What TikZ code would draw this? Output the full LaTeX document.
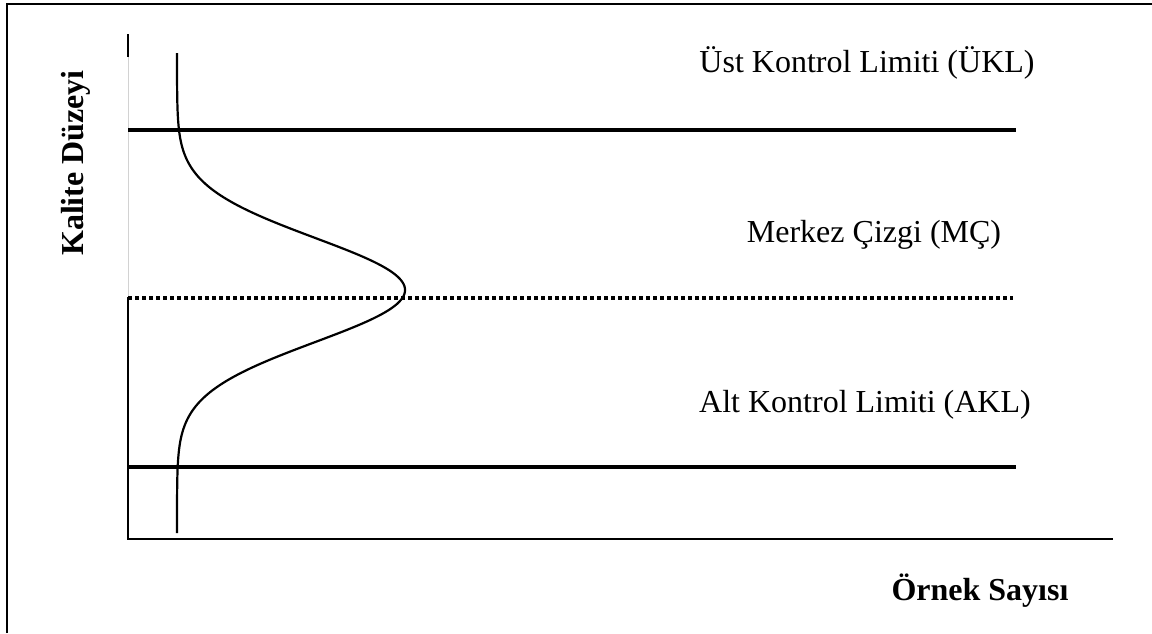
\documentclass[tikz,border=0pt]{standalone}
\usepackage{fontspec}
\setmainfont{Liberation Serif}
\begin{document}
\begin{tikzpicture}[x=1pt,y=-1pt,
  frame/.style={line width=2pt},
  axisline/.style={line width=2pt},
  limitline/.style={line width=3.8pt},
  centreline/.style={line width=3.5pt, dash pattern=on 3.5pt off 3.5pt},
  curve/.style={line width=2.2pt},
  lbl/.style={font=\fontsize{32}{38}\selectfont, anchor=base, inner sep=0pt},
  axtitle/.style={lbl, font=\fontsize{32}{38}\selectfont\bfseries}]
\useasboundingbox (0,0) rectangle (1152,633);

% outer frame (left and top edges)
\coordinate (fbl) at (7,633);
\coordinate (ftl) at (7,4);
\coordinate (ftr) at (1152,4);
\draw[frame] (fbl) -- (ftl) -- (ftr);

% axes
\coordinate (ytop) at (128,34);
\coordinate (ygrey) at (128,57);
\coordinate (ymid) at (128,297);
\coordinate (origin) at (128,539);
\coordinate (xend) at (1113,539);
\draw[axisline] (ytop) -- (ygrey);
\draw[gray!35, line width=0.8pt] (ygrey) -- (ymid);
\draw[axisline] (ymid) -- (origin) -- (xend);

% control limits and centre line
\coordinate (ukl0) at (128,130);
\coordinate (ukl1) at (1016,130);
\coordinate (mc0) at (128,298);
\coordinate (mc1) at (1013,298);
\coordinate (akl0) at (128,467);
\coordinate (akl1) at (1016,467);
\draw[limitline] (ukl0) -- (ukl1);
\draw[centreline] (mc0) -- (mc1);
\draw[limitline] (akl0) -- (akl1);

% normal distribution curve on its side
\draw[curve, domain=53:533, samples=240]
  plot ({177+228*exp(-0.5*((\x-290)/52)^2)}, \x);

% labels
\node[lbl] (ukl) at (867,72) {Üst Kontrol Limiti (ÜKL)};
\node[lbl] (mc) at (874,242) {Merkez Çizgi (MÇ)};
\node[lbl] (akl) at (865,412) {Alt Kontrol Limiti (AKL)};
\node[axtitle] (xtitle) at (980,600) {Örnek Sayısı};
\node[axtitle, rotate=90] (ytitle) at (83,163) {Kalite Düzeyi};
\end{tikzpicture}
\end{document}
